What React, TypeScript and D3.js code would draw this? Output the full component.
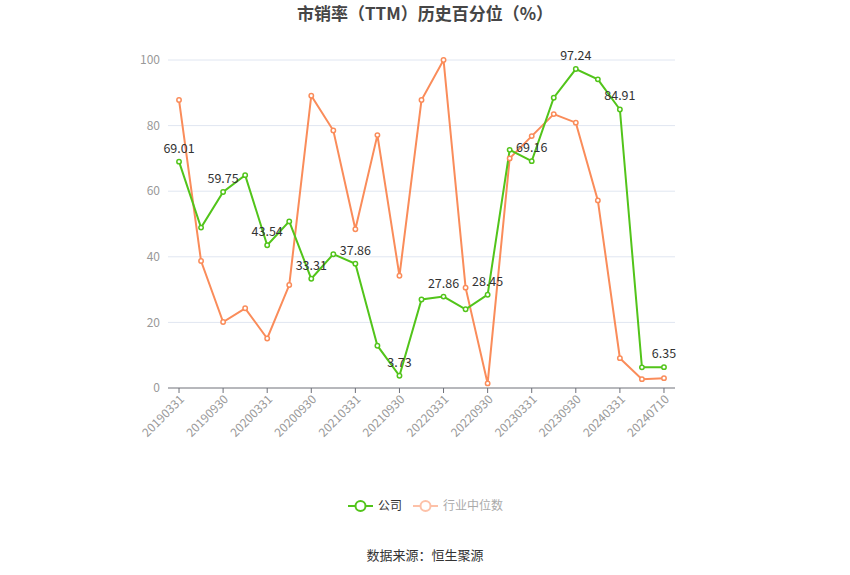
import React from "react";
import * as d3 from "d3";

const categories = [
  "20190331","20190630","20190930","20191231","20200331","20200630","20200930","20201231",
  "20210331","20210630","20210930","20211231","20220331","20220630","20220930","20221231",
  "20230331","20230630","20230930","20231231","20240331","20240630","20240710",
];
const companyValues = [
  69.01, 48.9, 59.75, 64.9, 43.54, 50.8, 33.31, 40.8, 37.86, 12.9, 3.73, 27.0,
  27.86, 24.0, 28.45, 72.6, 69.16, 88.5, 97.24, 94.1, 84.91, 6.3, 6.35,
];
const industryValues = [
  87.8, 38.7, 20.1, 24.3, 15.1, 31.4, 89.1, 78.5, 48.4, 77.1, 34.2, 87.8,
  100, 30.6, 1.4, 70.0, 76.8, 83.5, 80.9, 57.2, 9.1, 2.7, 3.0,
];
const yTicks = [0, 20, 40, 60, 80, 100];
const labeledIdx = [0, 2, 4, 6, 8, 10, 12, 14, 16, 18, 20, 22];
const xLabelIdx = [0, 2, 4, 6, 8, 10, 12, 14, 16, 18, 20, 22];

const GREEN = "#52c41a";
const ORANGE = "#fa8c5a";
const FONT = "'Noto Sans CJK SC', 'Noto Sans', sans-serif";

export default function App() {
  const W = 850, H = 575;
  const left = 168, right = 675, top = 60, bottom = 388;
  const x = d3.scaleBand<string>().domain(categories).range([left, right]);
  const cx = (i: number) => (x(categories[i]) as number) + x.bandwidth() / 2;
  const y = d3.scaleLinear().domain([0, 100]).range([bottom, top]);
  const line = d3.line<number>().x((_, i) => cx(i)).y((d) => y(d));

  return (
    <svg width={W} height={H} style={{ position: "absolute", left: 0, top: 0, fontFamily: FONT }}>
      <rect width={W} height={H} fill="#fff" />
      <text x={425} y={20} textAnchor="middle" fontSize={17} fontWeight="bold" fill="#464646">
        市销率（TTM）历史百分位（%）
      </text>
      {yTicks.map((t) => (
        <g key={t}>
          {t !== 0 && <line x1={left} x2={right} y1={y(t)} y2={y(t)} stroke="#e0e6f1" strokeWidth={1} />}
          <text x={160} y={y(t)} dy="0.35em" textAnchor="end" fontSize={12} fill="#999">{t}</text>
        </g>
      ))}
      <line x1={left} x2={right} y1={bottom} y2={bottom} stroke="#6e7079" strokeWidth={1} />
      {xLabelIdx.map((i) => (
        <g key={i}>
          <line x1={cx(i)} x2={cx(i)} y1={bottom} y2={bottom + 5} stroke="#6e7079" />
          <text
            transform={`translate(${cx(i) + 3},${bottom + 9}) rotate(-45)`}
            textAnchor="end"
            fontSize={12}
            fill="#999"
            dy="0.35em"
          >
            {categories[i]}
          </text>
        </g>
      ))}
      <path d={line(industryValues) || ""} fill="none" stroke={ORANGE} strokeWidth={2} />
      <path d={line(companyValues) || ""} fill="none" stroke={GREEN} strokeWidth={2} />
      {industryValues.map((v, i) => (
        <circle key={"o" + i} cx={cx(i)} cy={y(v)} r={2.2} fill="#fff" stroke={ORANGE} strokeWidth={1.5} />
      ))}
      {companyValues.map((v, i) => (
        <circle key={"g" + i} cx={cx(i)} cy={y(v)} r={2.2} fill="#fff" stroke={GREEN} strokeWidth={1.5} />
      ))}
      {labeledIdx.map((i) => (
        <text key={"l" + i} x={cx(i)} y={y(companyValues[i]) - 9} textAnchor="middle" fontSize={12.5} fill="#333">
          {companyValues[i].toFixed(2)}
        </text>
      ))}
      <g>
        <line x1={348} x2={373} y1={506} y2={506} stroke={GREEN} strokeWidth={2} />
        <circle cx={360.5} cy={506} r={5} fill="#fff" stroke={GREEN} strokeWidth={2} />
        <text x={378} y={506} dy="0.35em" fontSize={12} fill="#333">公司</text>
        <line x1={413} x2={438} y1={506} y2={506} stroke="#fdc1a8" strokeWidth={2} />
        <circle cx={425.5} cy={506} r={5} fill="#fff" stroke="#fdc1a8" strokeWidth={2} />
        <text x={443} y={506} dy="0.35em" fontSize={12} fill="#aaa">行业中位数</text>
      </g>
      <text x={425} y={555} dy="0.35em" textAnchor="middle" fontSize={13} fill="#333">
        数据来源：恒生聚源
      </text>
    </svg>
  );
}
